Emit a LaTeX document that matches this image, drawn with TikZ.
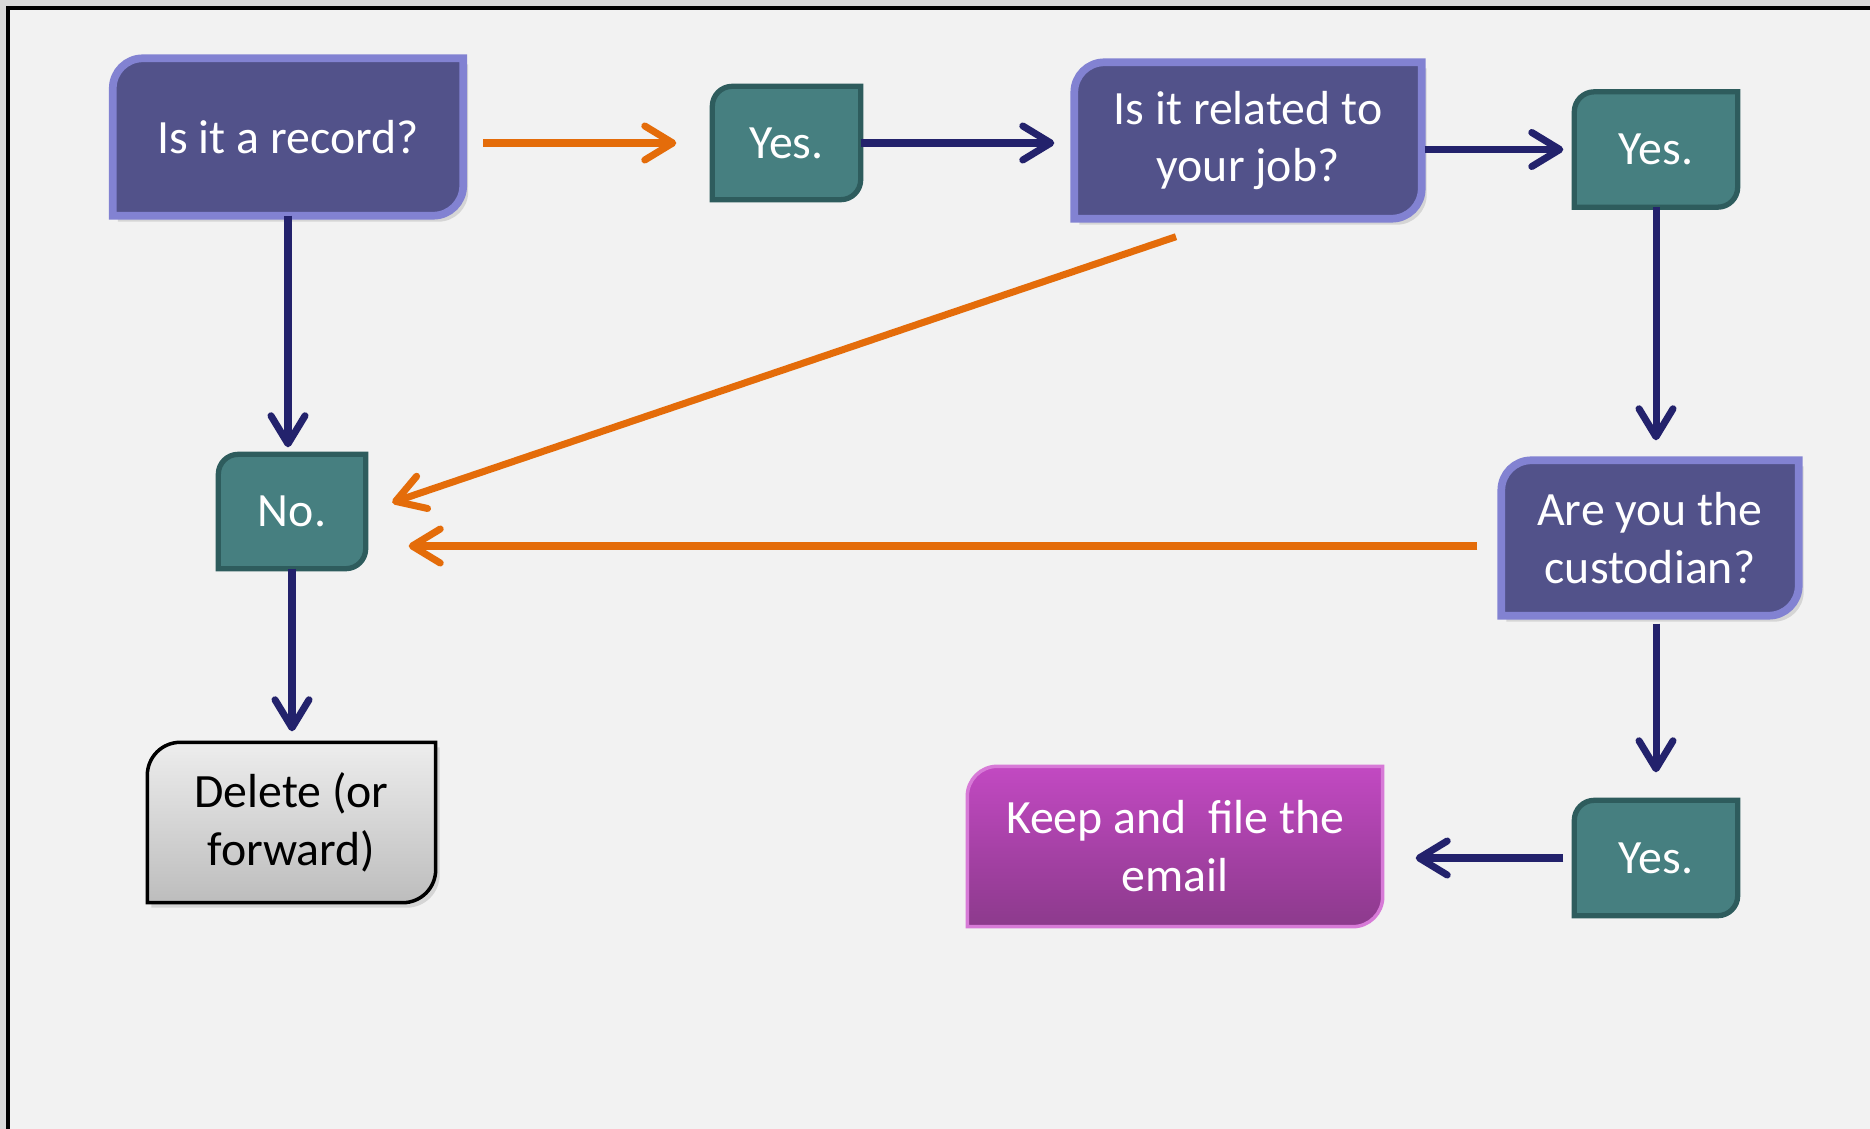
\documentclass[tikz,border=0pt]{standalone}
\usepackage{fontspec}
\setmainfont{Carlito}
\usepackage{xcolor}
\usetikzlibrary{arrows.meta,backgrounds,shadows}
\definecolor{bg}{HTML}{F2F2F2}
\definecolor{qfill}{HTML}{52528A}
\definecolor{qedge}{HTML}{8282D2}
\definecolor{tfill}{HTML}{467F80}
\definecolor{tedge}{HTML}{2E5C5D}
\definecolor{ktop}{HTML}{C249C2}
\definecolor{kbot}{HTML}{8C3A8C}
\definecolor{kedge}{HTML}{D77AD7}
\definecolor{navy}{HTML}{23226C}
\definecolor{orange}{HTML}{E46C0A}
\tikzset{
  txt/.style={align=center, inner sep=0pt, font=\fontsize{13.6}{16.5}\selectfont},
  question/.style={txt, text=white, minimum width=3.46cm, minimum height=1.55cm},
  answer/.style={txt, text=white, minimum width=1.62cm, minimum height=1.14cm},
  qshape/.style={fill=qfill, draw=qedge, line width=2.2pt,
    drop shadow={opacity=0.25, shadow xshift=0.05cm, shadow yshift=-0.06cm}},
  tshape/.style={fill=tfill, draw=tedge, line width=1.5pt},
  dshape/.style={top color=white!93!black, bottom color=white!74!black, draw=black, line width=1pt,
    drop shadow={opacity=0.25, shadow xshift=0.04cm, shadow yshift=-0.05cm}},
  kshape/.style={top color=ktop, bottom color=kbot, draw=kedge, line width=1pt},
  flow/.style={draw=navy, line width=2pt, -{Straight Barb[length=0.28cm,width=0.34cm,round]}},
  back/.style={flow, draw=orange}
}
% box with two rounded corners (top left, bottom right)
\newcommand\diagframe[3]{%
  \path[#3] (#1.south west) -- ([yshift=-#2]#1.north west)
    arc[start angle=180, end angle=90, radius=#2] -- (#1.north east)
    -- ([yshift=#2]#1.south east) arc[start angle=0, end angle=-90, radius=#2] -- cycle;}

\begin{document}
\begin{tikzpicture}
  \useasboundingbox (0,0) rectangle (18.7,-11.29);
  \begin{pgfonlayer}{background}
    \fill[bg] (0,0) rectangle (18.7,-11.29);
    \fill[white!85!black] (0,0) rectangle (18.7,-0.07);
    \fill[white!85!black] (0,0) rectangle (0.07,-11.29);
    \draw[black, line width=0.9pt] (0.08,-11.29) -- (0.08,-0.08) -- (18.7,-0.08);
  \end{pgfonlayer}

  \node[question, minimum width=3.49cm, minimum height=1.56cm] (rec) at (2.88,-1.37) {Is it a record?};
  \node[answer, minimum width=1.47cm, minimum height=1.12cm] (yes1) at (7.865,-1.43) {Yes.};
  \node[question] (job) at (12.48,-1.405) {Is it related to\\your job?};
  \node[answer] (yes2) at (16.56,-1.495) {Yes.};
  \node[answer, minimum width=1.46cm, minimum height=1.13cm] (no) at (2.92,-5.115) {No.};
  \node[question, minimum width=2.96cm, minimum height=1.54cm] (cust) at (16.5,-5.38) {Are you the\\custodian?};
  \node[txt, minimum width=2.87cm, minimum height=1.59cm] (del) at (2.915,-8.225) {Delete (or\\forward)};
  \node[txt, text=white, minimum width=4.14cm, minimum height=1.59cm] (keep) at (11.75,-8.465) {Keep and\ \ file the\\email};
  \node[answer] (yes3) at (16.56,-8.58) {Yes.};

  \begin{pgfonlayer}{background}
    \diagframe{rec}{0.3cm}{qshape}
    \diagframe{job}{0.3cm}{qshape}
    \diagframe{cust}{0.3cm}{qshape}
    \diagframe{yes1}{0.2cm}{tshape}
    \diagframe{yes2}{0.2cm}{tshape}
    \diagframe{yes3}{0.2cm}{tshape}
    \diagframe{no}{0.2cm}{tshape}
    \diagframe{del}{0.33cm}{dshape}
    \diagframe{keep}{0.3cm}{kshape}
  \end{pgfonlayer}

  % yes path
  \draw[back, shorten <=0.2cm, shorten >=0.36cm] (rec.east |- yes1.west) -- (yes1.west);
  \draw[flow, shorten >=0.2cm] (yes1.east) -- (yes1.east -| job.west);
  \draw[flow, shorten <=0.03cm, shorten >=0.11cm] (job.east |- yes2.west) -- (yes2.west);
  \draw[flow, shorten >=0.2cm] (yes2.south) -- (yes2.south |- cust.north);
  \draw[flow, shorten <=0.08cm, shorten >=0.28cm] (cust.south -| yes3.north) -- (yes3.north);
  \draw[flow, shorten <=0.11cm, shorten >=0.33cm] (yes3.west) -- (yes3.west -| keep.east);

  % no path
  \draw[flow, shorten >=0.07cm] (rec.south) -- (rec.south |- no.north);
  \draw[back, shorten >=0.28cm] ([xshift=-0.72cm,yshift=-0.18cm]job.south) -- (no.east);
  \draw[back, shorten <=0.24cm, shorten >=0.43cm] ([yshift=-0.08cm]cust.west) -- ([yshift=-0.08cm]cust.west -| no.east);
  \draw[flow, shorten >=0.11cm] (no.south) -- (no.south |- del.north);
\end{tikzpicture}
\end{document}
